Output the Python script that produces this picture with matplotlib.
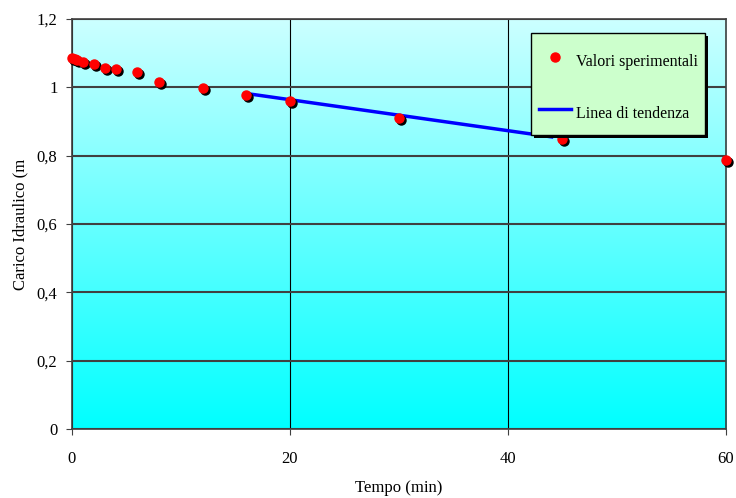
import matplotlib
matplotlib.use("Agg")
import matplotlib.pyplot as plt
import matplotlib.transforms as mtransforms
from matplotlib.patches import Rectangle
from matplotlib.ticker import FuncFormatter
import numpy as np

# data
tempo = [0, 0.25, 0.5, 1, 2, 3, 4, 6, 8, 12, 16, 20, 30, 45, 60]
carico = [1.085, 1.082, 1.079, 1.073, 1.067, 1.056, 1.053, 1.044,
          1.015, 0.997, 0.977, 0.959, 0.909, 0.850, 0.786]
trend_t = [16, 44]
trend_h = [0.982, 0.855]

plt.rcParams['font.family'] = ['Liberation Serif', 'DejaVu Serif']

fig = plt.figure(figsize=(7.36, 4.98), dpi=100)
ax = fig.add_axes([0.0978, 0.1386, 0.8886, 0.8232])

# gradient background (light cyan top -> cyan bottom)
grad = np.linspace(0, 1, 256)
cols = np.ones((256, 1, 3))
cols[:, 0, 0] = 0.80 * grad
ax.imshow(cols, extent=[0, 60, 0, 1.2], origin='lower', aspect='auto', zorder=0)

ax.set_xlim(0, 60)
ax.set_ylim(0, 1.2)
ax.set_xticks([0, 20, 40, 60])
ax.set_yticks(np.arange(0, 1.21, 0.2))
ax.grid(axis='y', color='#404040', linewidth=1.5, zorder=1)
ax.grid(axis='x', color='black', linewidth=0.8, zorder=1)

ax.plot(trend_t, trend_h, color='#0000ff', linewidth=2.5, zorder=3,
        label='Linea di tendenza')

shadow = mtransforms.offset_copy(ax.transData, fig=fig, x=2, y=-2, units='dots')
ax.plot(tempo, carico, 'o', color='black', markersize=6.5, transform=shadow,
        zorder=4, clip_on=False)
ax.plot(tempo, carico, 'o', color='red', markersize=6.5, zorder=5,
        clip_on=False, label='Valori sperimentali')

fmt = FuncFormatter(lambda v, p: ('%g' % round(v, 2)).replace('.', ','))
ax.yaxis.set_major_formatter(fmt)
ax.tick_params(labelsize=12, length=4.5, color='#404040', pad=6)
ax.tick_params(axis='x', pad=11)
for s in ax.spines.values():
    s.set_color('#404040')
    s.set_linewidth(1.2)

ax.set_xlabel('Tempo (min)', fontsize=12, labelpad=10)
ax.set_ylabel('Carico Idraulico (m', fontsize=12, labelpad=6)

# legend box with drop shadow
box = (0.702, 0.717, 0.266, 0.249)
box_shadow = mtransforms.offset_copy(ax.transAxes, fig=fig, x=3, y=-3, units='dots')
ax.add_patch(Rectangle(box[:2], box[2], box[3], transform=box_shadow,
                       facecolor='black', edgecolor='none', zorder=6))
ax.add_patch(Rectangle(box[:2], box[2], box[3], transform=ax.transAxes,
                       facecolor='#ccffcc', edgecolor='black', linewidth=1,
                       zorder=7))

h, l = ax.get_legend_handles_labels()
leg = ax.legend(h[::-1], l[::-1], loc='upper left',
                bbox_to_anchor=(0.702, 0.949), fontsize=11.5, frameon=False,
                labelspacing=1.63, handlelength=2.0, handleheight=2.1,
                handletextpad=0.3, borderpad=0.5, borderaxespad=0)
leg.set_zorder(8)

fig.savefig('out.png', dpi=100, facecolor='white')
